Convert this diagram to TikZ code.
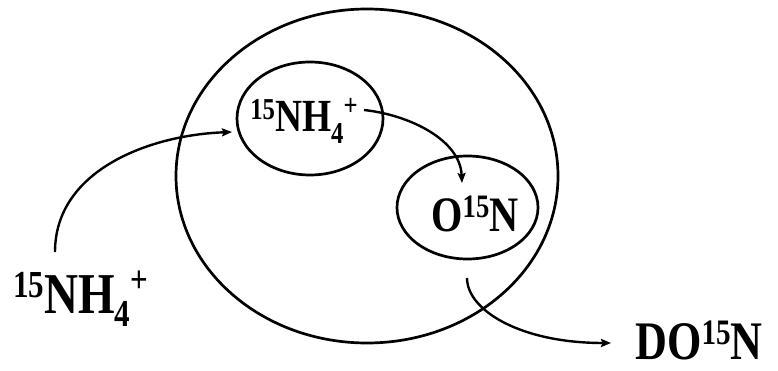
\documentclass[tikz,border=0pt]{standalone}
\usepackage{fontspec}
\usepackage{graphicx}
\setmainfont{Liberation Serif}
\usetikzlibrary{arrows.meta}

% raised / lowered small indices for isotope labels
\newcommand\isoup[1]{\raisebox{0.27em}{\scalebox{0.66}{#1}}}
\newcommand\isodn[1]{\raisebox{-0.24em}{\scalebox{0.66}{#1}}}
\newcommand\isochg[1]{\raisebox{0.36em}{\scalebox{0.66}{#1}}}
% labels are set slightly tall and narrow
\newcommand\tall[1]{\scalebox{0.96}[1.18]{#1}}

\begin{document}
\begin{tikzpicture}[x=1pt,y=-1pt,
  line width=2.7pt,
  label/.style={anchor=base west, inner sep=0pt, font=\bfseries},
  flow/.style={line width=2.4pt, -{Stealth[length=10pt,width=8pt,inset=1.5pt]}}]
  \useasboundingbox (0,0) rectangle (778,371);

  % cell and internal pools
  \draw (367,176) ellipse [x radius=191, y radius=167];
  \draw (310,118.5) ellipse [x radius=73, y radius=56.5];
  \draw (467.5,207.5) ellipse [x radius=70.5, y radius=51.5];

  % labels
  \node[label, font=\bfseries\fontsize{39}{40}\selectfont] (nin) at (249,132)
    {\tall{\isoup{15}NH\isodn{4}\isochg{+}}};
  \node[label, font=\bfseries\fontsize{42}{44}\selectfont] (ox) at (430,231)
    {\tall{O\isoup{15}N}};
  \node[label, font=\bfseries\fontsize{49}{50}\selectfont] (nout) at (12,313)
    {\tall{\isoup{15}NH\isodn{4}\isochg{+}}};
  \node[label, font=\bfseries\fontsize{46}{48}\selectfont] (don) at (634,359)
    {\tall{DO\isoup{15}N}};

  % connector end points
  \coordinate (a0) at (55,252);
  \coordinate (a1) at (232,132);
  \coordinate (b0) at (364,110);
  \coordinate (b1) at (462,183);
  \coordinate (c0) at (467,278);
  \coordinate (c1) at (611,343);

  % uptake, oxidation, release
  \draw[flow] (a0) .. controls (55,170) and (150,135) .. (a1);
  \draw[flow] (b0) .. controls (410,115) and (460,140) .. (b1);
  \draw[flow] (c0) .. controls (467,310) and (520,343) .. (c1);
\end{tikzpicture}
\end{document}
